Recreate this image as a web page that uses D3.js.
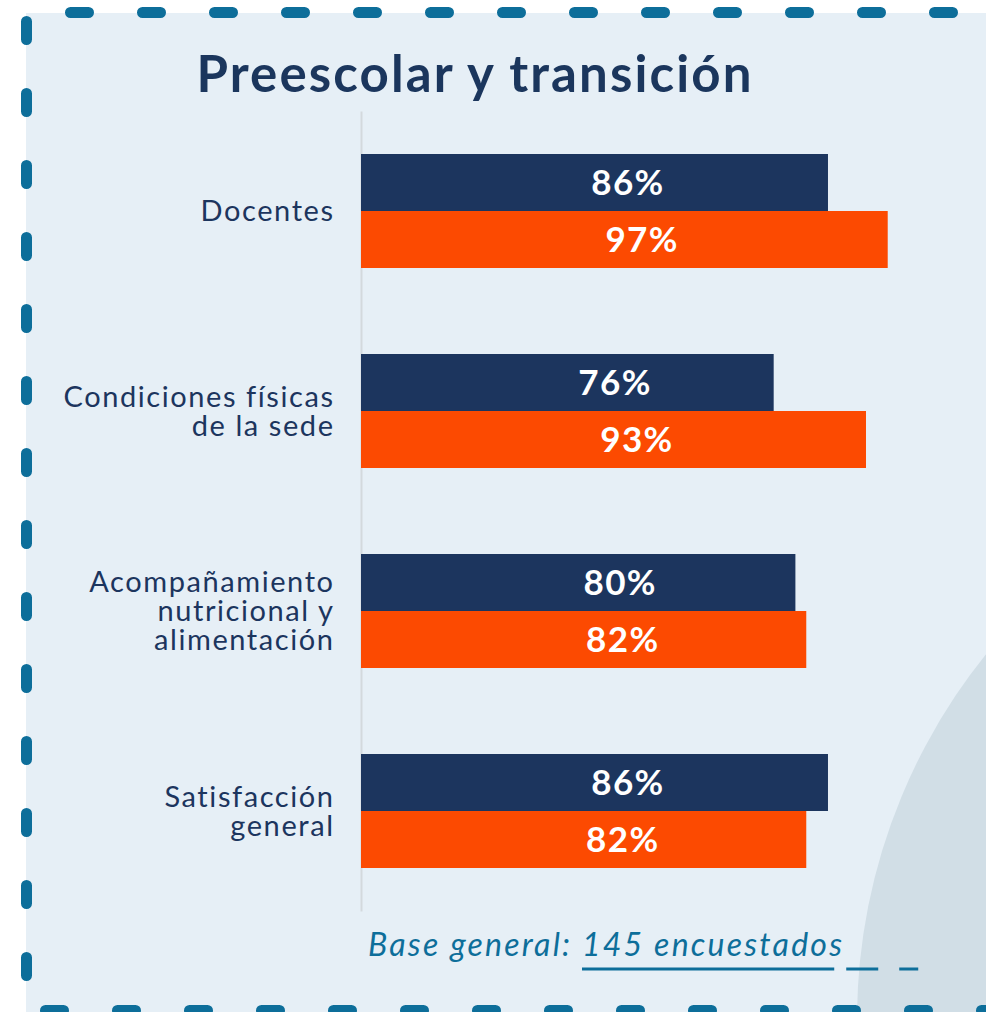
<!DOCTYPE html>
<html>
<head>
<meta charset="utf-8">
<script src="https://cdn.jsdelivr.net/npm/d3@7"></script>
<style>
  body { margin: 0; background: #fff; }
  svg { display: block; }
</style>
</head>
<body>
<div id="chart"></div>
<script>
// values
const categories = ['Docentes', 'Condiciones físicas de la sede', 'Acompañamiento nutricional y alimentación', 'Satisfacción general'];
const categoryLines = [['Docentes'], ['Condiciones físicas', 'de la sede'], ['Acompañamiento', 'nutricional y', 'alimentación'], ['Satisfacción', 'general']];
const seriesKeys = ['serieA', 'serieB'];
const valuesA = [86, 76, 80, 86];
const valuesB = [97, 93, 82, 82];
const chartTitle = 'Preescolar y transición';
const notePrefix = 'Base general: ';
const noteUnderlined = '145 encuestados';

const width = 986,
    height = 1012;

const colors = {
    navy: '#1c355e',
    orange: '#fc4a01',
    panel: '#e6eff6',
    blob: '#d1dee6',
    dash: '#0d6e9a',
    axis: '#d3d9dd'
};

const rows = categories.map((c, i) => ({
    category: c,
    values: [
        { key: seriesKeys[0], value: valuesA[i] },
        { key: seriesKeys[1], value: valuesB[i] }
    ]
}));

const svg = d3.select('#chart')
    .append('svg')
    .attr('width', width)
    .attr('height', height);

// panel background, big circle in the lower right corner
svg.append('defs').append('clipPath')
    .attr('id', 'panelClip')
    .append('rect')
    .attr('x', 26).attr('y', 13)
    .attr('width', width - 26).attr('height', height - 13);

svg.append('rect')
    .attr('x', 26).attr('y', 13)
    .attr('width', width - 26).attr('height', height - 13)
    .attr('fill', colors.panel);

svg.append('circle')
    .attr('clip-path', 'url(#panelClip)')
    .attr('cx', 1440).attr('cy', 1020).attr('r', 583)
    .attr('fill', colors.blob);

// dashed border (top, left, bottom)
const border = svg.append('g')
    .attr('stroke', colors.dash)
    .attr('stroke-width', 11)
    .attr('stroke-linecap', 'round')
    .attr('stroke-dasharray', '18 54');

border.append('line').attr('x1', 70.5).attr('x2', width + 20).attr('y1', 12.5).attr('y2', 12.5);
border.append('line').attr('x1', 26.5).attr('x2', 26.5).attr('y1', 21.5).attr('y2', 990);
border.append('line').attr('x1', 45.5).attr('x2', width + 20).attr('y1', 1010.5).attr('y2', 1010.5);

// letter spacing so a reference string gets the width it has in the picture
function spacingFor(str, font, targetW) {
    const t = svg.append('text').style('font', font).text(str);
    const w = t.node().getComputedTextLength();
    t.remove();
    return (targetW - w) / (str.length - 1);
}

const labelFont = '400 29px Lato';
const valueFont = '700 35px Lato';
const titleFont = '700 51px Lato';
const noteFont = 'italic 400 32px Lato';

const labelSpacing = spacingFor('Condiciones físicas', labelFont, 269);
const valueSpacing = spacingFor('86%', valueFont, 72);
const titleSpacing = spacingFor(chartTitle, titleFont, 555);
const noteSpacing = spacingFor(notePrefix + noteUnderlined, noteFont, 474);

// scales
const x = d3.scaleLinear()
    .domain([0, 100])
    .range([361, 904]);

const y = d3.scaleBand()
    .domain(categories)
    .range([111, 911])
    .paddingInner(0.43)
    .paddingOuter(0.215);

const ySub = d3.scaleBand()
    .domain(seriesKeys)
    .range([0, y.bandwidth()]);

const color = d3.scaleOrdinal()
    .domain(seriesKeys)
    .range([colors.navy, colors.orange]);

// the value labels sit left of centre, moving a little with the value
const labelX = d3.scaleLinear()
    .domain([0, 100])
    .range([517, 646]);

// title
svg.append('text')
    .attr('x', 475)
    .attr('y', 92)
    .attr('text-anchor', 'middle')
    .style('font', titleFont)
    .style('letter-spacing', titleSpacing + 'px')
    .attr('fill', '#1b365d')
    .text(chartTitle);

// category axis
const yAxis = svg.append('g')
    .attr('transform', 'translate(' + x(0) + ',0)')
    .call(d3.axisLeft(y).tickSize(0).tickSizeOuter(0).tickPadding(28));

yAxis.select('.domain')
    .attr('stroke', colors.axis)
    .attr('stroke-width', 2);

yAxis.selectAll('.tick text')
    .style('font', labelFont)
    .style('letter-spacing', labelSpacing + 'px')
    .attr('fill', colors.navy)
    .attr('dy', null)
    .each(function (d) {
        const lines = categoryLines[categories.indexOf(d)];
        const t = d3.select(this).text(null);
        lines.forEach((ln, j) => {
            t.append('tspan')
                .attr('x', -28 + labelSpacing)
                .attr('dy', j === 0 ? (0.35 - (lines.length - 1) * 0.5) + 'em' : '1em')
                .text(ln);
        });
    });

// bars
const groups = svg.append('g')
    .selectAll('g')
    .data(rows)
    .join('g')
    .attr('transform', d => 'translate(0,' + y(d.category) + ')');

groups.selectAll('rect')
    .data(d => d.values)
    .join('rect')
    .attr('x', x(0))
    .attr('y', d => ySub(d.key))
    .attr('width', d => x(d.value) - x(0))
    .attr('height', ySub.bandwidth())
    .attr('fill', d => color(d.key));

groups.selectAll('text')
    .data(d => d.values)
    .join('text')
    .attr('x', d => labelX(d.value))
    .attr('y', d => ySub(d.key) + ySub.bandwidth() / 2)
    .attr('dy', '0.36em')
    .attr('text-anchor', 'middle')
    .style('font', valueFont)
    .style('letter-spacing', valueSpacing + 'px')
    .attr('fill', '#fff')
    .text(d => d.value + '%');

// base note with its underline
const note = svg.append('text')
    .attr('x', 368)
    .attr('y', 956)
    .style('font', noteFont)
    .style('letter-spacing', noteSpacing + 'px')
    .attr('fill', colors.dash)
    .text(notePrefix + noteUnderlined);

const n = note.node();
const uStart = 368 + n.getSubStringLength(0, notePrefix.length);
const uEnd = 368 + n.getSubStringLength(0, notePrefix.length + noteUnderlined.length) - 10;

const underline = svg.append('g')
    .attr('stroke', colors.dash)
    .attr('stroke-width', 3);

underline.append('line').attr('x1', uStart).attr('x2', uEnd).attr('y1', 969).attr('y2', 969);
underline.append('line').attr('x1', uEnd + 12).attr('x2', uEnd + 44).attr('y1', 969).attr('y2', 969);
underline.append('line').attr('x1', uEnd + 65).attr('x2', uEnd + 84).attr('y1', 969).attr('y2', 969);
</script>
</body>
</html>
